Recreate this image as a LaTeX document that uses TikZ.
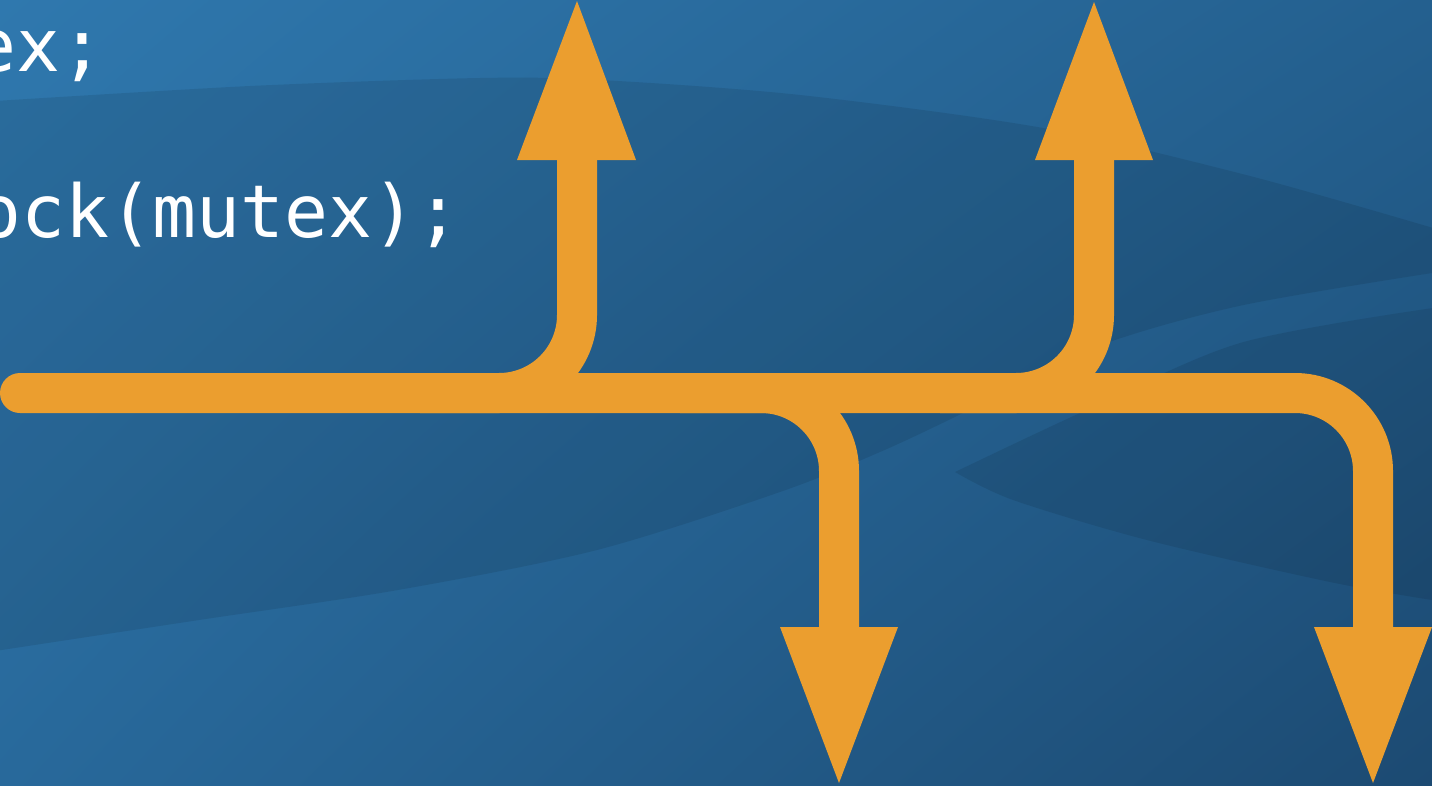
\documentclass[tikz,border=0pt]{standalone}
\usepackage{fontspec}
\usetikzlibrary{shadings}
\newfontfamily\codefont{DejaVu Sans Mono}
\definecolor{bgA}{HTML}{2F78AE}
\definecolor{bgB}{HTML}{24608F}
\definecolor{bgC}{HTML}{28699B}
\definecolor{bgD}{HTML}{1C4A72}
\definecolor{pipeorange}{HTML}{EB9E2F}
\tikzset{
  pipe/.style={draw=pipeorange, line width=40pt, rounded corners=78pt},
  tip/.style={fill=pipeorange},
  code/.style={text=white, font=\codefont\fontsize{73}{80}\selectfont, anchor=base west, inner sep=0pt},
  band/.style={fill=black, fill opacity=0.09},
}
\begin{document}
\begin{tikzpicture}[x=1pt,y=-1pt]
\useasboundingbox (0,0) rectangle (1432,785);
\begin{scope}
\clip (0,0) rectangle (1432,785);
% background
\shade[upper left=bgA, upper right=bgB, lower left=bgC, lower right=bgD] (0,0) rectangle (1432,785);
% dark band
\fill[band] plot[smooth] coordinates {(-5,101) (250,86) (480,78) (600,80) (800,95) (1043,128) (1250,176) (1440,230)}
  -- (1440,272)
  -- plot[smooth] coordinates {(1432,273) (1239,306) (1093,348) (963,413) (880,452) (780,492) (597,550) (398,590) (199,620) (-5,651)}
  -- cycle;
% dark lens
\fill[band] plot[smooth] coordinates {(955,472) (1080,413) (1240,343) (1440,307)}
  -- (1440,601)
  -- plot[smooth] coordinates {(1432,600) (1330,582) (1147,540) (1013,500) (955,472)}
  -- cycle;
% code text
\node[code] (line1) at (-28,71) {ex;};
\node[code] (line2) at (-23,237) {ock(mutex);};
% coordinates
\coordinate (start) at (20,393);
\coordinate (mainend) at (1373,628);
\coordinate (u1s) at (420,393);
\coordinate (u1e) at (577,160);
\coordinate (u2s) at (940,393);
\coordinate (u2e) at (1094,160);
\coordinate (d1s) at (680,393);
\coordinate (d1e) at (839,628);
% pipes
\draw[pipe, line cap=round] (start) -| (mainend);
\draw[pipe] (u1s) -| (u1e);
\draw[pipe] (u2s) -| (u2e);
\draw[pipe] (d1s) -| (d1e);
% arrow heads
\coordinate (a1l) at (517,160); \coordinate (a1r) at (636,160); \coordinate (a1t) at (577,1);
\coordinate (a2l) at (1035,160); \coordinate (a2r) at (1153,160); \coordinate (a2t) at (1094,2);
\coordinate (a3l) at (780,627); \coordinate (a3r) at (898,627); \coordinate (a3t) at (839,783);
\coordinate (a4l) at (1314,627); \coordinate (a4r) at (1432,627); \coordinate (a4t) at (1373,783);
\fill[tip] (a1l) -- (a1r) -- (a1t) -- cycle;
\fill[tip] (a2l) -- (a2r) -- (a2t) -- cycle;
\fill[tip] (a3l) -- (a3r) -- (a3t) -- cycle;
\fill[tip] (a4l) -- (a4r) -- (a4t) -- cycle;
\end{scope}
\end{tikzpicture}
\end{document}
